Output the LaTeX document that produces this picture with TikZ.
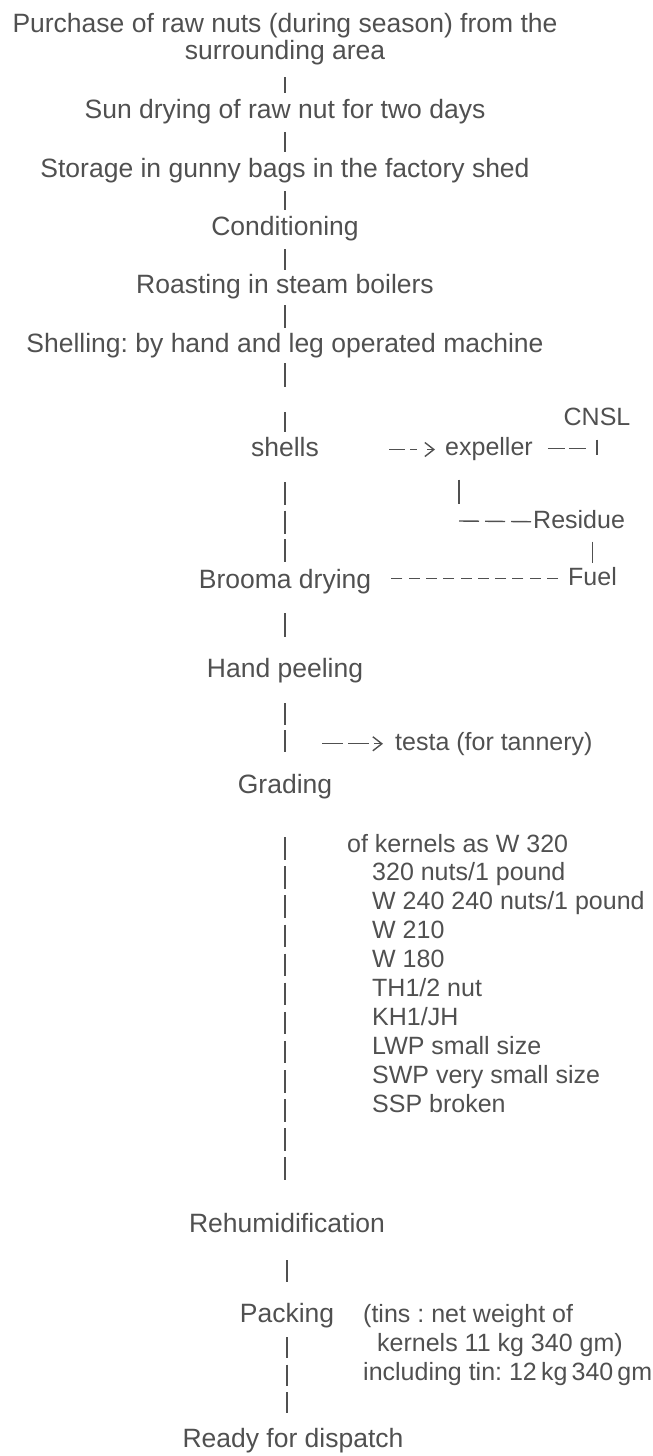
\documentclass[tikz,border=0pt]{standalone}
\usepackage{fontspec}
\setmainfont{Liberation Sans}
\usetikzlibrary{arrows.meta}
\definecolor{ink}{HTML}{505050}
\frenchspacing

\begin{document}
\begin{tikzpicture}[x=1pt, y=-1pt,
  every node/.style={text=ink, inner sep=0pt},
  stage/.style={font=\fontsize{26.5}{27}\selectfont, text height=19pt, text depth=6pt, anchor=base},
  note/.style={font=\fontsize{25}{29}\selectfont, text height=18pt, text depth=5.5pt, anchor=base west},
  link/.style={draw=ink, line width=1.4pt, shorten <=8pt, shorten >=6pt},
  dashlink/.style={draw=ink, line width=1.4pt},
  tip/.style={-{Straight Barb[length=9pt, width=14pt]}}]

  % Define the x position of the main line
  \def\spine{285}

  \useasboundingbox (0,0) rectangle (653,1456);

  % Draw the steps of the upper chain
  \node[stage, anchor=north, align=center, text height=, text depth=] (purchase) at (\spine,13) {Purchase of raw nuts (during season) from the\\surrounding area};
  \node[stage] (sun) at (\spine,118) {Sun drying of raw nut for two days};
  \node[stage] (storage) at (\spine,177) {Storage in gunny bags in the factory shed};
  \node[stage] (cond) at (\spine,235) {Conditioning};
  \node[stage] (roast) at (\spine,293) {Roasting in steam boilers};
  \node[stage] (shelling) at (\spine,352) {Shelling: by hand and leg operated machine};

  \draw[link, shorten <=12pt] (purchase.south) -- (sun.north);
  \draw[link] (sun) -- (storage);
  \draw[link] (storage) -- (cond);
  \draw[link, shorten >=4pt] (cond) -- (roast);
  \draw[link, shorten <=6pt, shorten >=5pt] (roast) -- (shelling);

  % Draw the shells branch
  \node[stage] (shells) at (\spine,456) {shells};
  \node[note] (expeller) at (445,455) {expeller};
  \node[note, anchor=base] (cnsl) at (597,425) {CNSL};
  \node[note] (residue) at (533,528) {Residue};
  \node[note] (fuel) at (568,585) {Fuel};
  \coordinate (cnslfoot) at (597,455);
  \coordinate (resturn) at (459,521);

  \draw[dashlink, dash pattern=on 24pt off 25pt, shorten <=5pt, shorten >=5pt] (shelling) -- (shells);
  \draw[dashlink, tip, dash pattern=on 16pt off 5pt on 7pt off 10pt, shorten <=70pt, shorten >=10pt] (shells.east) -- (shells.east -| expeller.west);
  \draw[dashlink, dash pattern=on 17pt off 4pt, shorten <=15pt, shorten >=10pt] (expeller.east) -- (expeller.east -| cnslfoot);
  \draw[link, shorten <=9pt, shorten >=0pt] (cnsl.south) -- (cnslfoot);
  \draw[link, shorten <=19pt, shorten >=17pt] (resturn |- expeller.south) -- (resturn);
  \draw[dashlink, dash pattern=on 20pt off 6pt] (resturn) -- (residue.west);
  \draw[link, shorten <=8pt, shorten >=4pt] (residue.south -| fuel) -- (fuel.north);

  % Draw the kernel steps
  \node[stage] (brooma) at (\spine,588) {Brooma drying};
  \node[stage] (peeling) at (\spine,677) {Hand peeling};
  \node[note] (testa) at (395,750) {testa (for tannery)};
  \node[stage] (grading) at (\spine,793) {Grading};

  \draw[dashlink, dash pattern=on 23pt off 5.5pt, shorten <=20pt, shorten >=7pt] (shells) -- (brooma);
  \draw[dashlink, dash pattern=on 11pt off 6.3pt, shorten <=10pt, shorten >=20pt] (fuel.west) -- (fuel.west -| brooma.east);
  \draw[link, shorten <=19pt, shorten >=21pt] (brooma) -- (peeling);
  \draw[dashlink, dash pattern=on 22pt off 5pt, shorten <=20pt, shorten >=21pt] (peeling) -- (grading);
  \draw[dashlink, tip, dash pattern=on 21pt off 5pt, shorten <=37pt, shorten >=12pt] (peeling.south |- testa.west) -- (testa.west);

  % Draw the grades of kernels
  \node[note] (kernels) at (347,852) {of kernels as W 320};
  \foreach \grade [count=\i] in {320 nuts/1 pound, W 240 240 nuts/1 pound, W 210, W 180, TH1/2 nut, KH1/JH, LWP small size, SWP very small size, SSP broken}
  {
    \node[note] (g\i) at (372,{851+29.1*\i}) {\grade};
  }

  % Draw the final steps
  \node[stage] (rehum) at (287,1232) {Rehumidification};
  \node[stage] (packing) at (287,1322) {Packing};
  \node[note, anchor=north west, align=left, text height=, text depth=] (tins) at (363,1304) {(tins : net weight of\\\hspace*{14pt}kernels 11 kg 340 gm)\\including tin: 12\,kg\,340\,gm};
  \node[stage] (ready) at (293,1447) {Ready for dispatch};

  \draw[dashlink, dash pattern=on 22.5pt off 6.6pt, shorten <=38pt, shorten >=33pt] (grading.south) -- (grading.south |- rehum.north);
  \draw[link, shorten <=22pt, shorten >=21pt] (rehum) -- (packing);
  \draw[dashlink, dash pattern=on 21pt off 6.5pt, shorten <=9pt, shorten >=15pt] (packing.south) -- (packing.south |- ready.north);
\end{tikzpicture}
\end{document}
